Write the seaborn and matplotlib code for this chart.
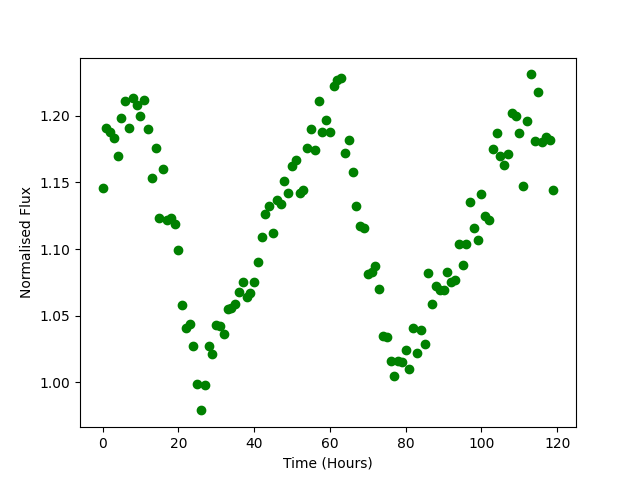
import numpy as np
import pandas as pd
import matplotlib
matplotlib.use("Agg")
import matplotlib.pyplot as plt
import seaborn as sns

# time in hours, one reading per hour
hours = np.arange(120)

# normalised flux
flux = [1.146, 1.191, 1.188, 1.183, 1.170, 1.198, 1.211, 1.191, 1.213, 1.208,
        1.200, 1.212, 1.190, 1.153, 1.176, 1.123, 1.160, 1.122, 1.123, 1.119,
        1.099, 1.058, 1.041, 1.044, 1.027, 0.999, 0.979, 0.998, 1.027, 1.021,
        1.043, 1.042, 1.036, 1.055, 1.056, 1.059, 1.068, 1.075, 1.064, 1.067,
        1.075, 1.090, 1.109, 1.126, 1.132, 1.112, 1.137, 1.134, 1.151, 1.142,
        1.162, 1.167, 1.142, 1.144, 1.176, 1.190, 1.174, 1.211, 1.188, 1.197,
        1.188, 1.222, 1.227, 1.228, 1.172, 1.182, 1.158, 1.132, 1.117, 1.116,
        1.081, 1.083, 1.087, 1.070, 1.035, 1.034, 1.016, 1.005, 1.016, 1.015,
        1.024, 1.010, 1.041, 1.022, 1.039, 1.029, 1.082, 1.059, 1.072, 1.069,
        1.069, 1.083, 1.075, 1.077, 1.104, 1.088, 1.104, 1.135, 1.116, 1.107,
        1.141, 1.125, 1.122, 1.175, 1.187, 1.170, 1.163, 1.171, 1.202, 1.200,
        1.187, 1.147, 1.196, 1.231, 1.181, 1.218, 1.180, 1.184, 1.182, 1.144]

df = pd.DataFrame({"hours": hours, "flux": flux})

fig, ax = plt.subplots(figsize=(6.4, 4.8), dpi=100)
sns.scatterplot(data=df, x="hours", y="flux", color="green", s=36,
                edgecolor="green", linewidth=1, ax=ax)

ax.set(xlabel="Time (Hours)", ylabel="Normalised Flux")
fig.savefig("out.png", dpi=100)
